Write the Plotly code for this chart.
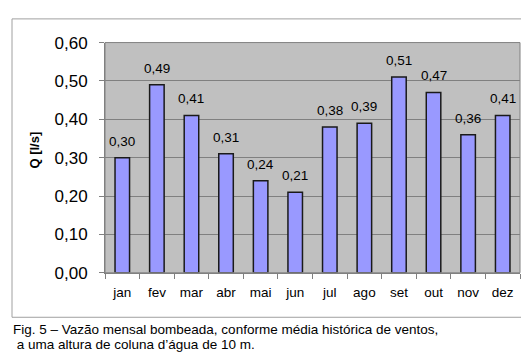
import plotly.graph_objects as go

months = ["jan", "fev", "mar", "abr", "mai", "jun", "jul", "ago", "set", "out", "nov", "dez"]
values = [0.30, 0.49, 0.41, 0.31, 0.24, 0.21, 0.38, 0.39, 0.51, 0.47, 0.36, 0.41]
y_ticks = [0.0, 0.1, 0.2, 0.3, 0.4, 0.5, 0.6]
y_tick_labels = ["0,00", "0,10", "0,20", "0,30", "0,40", "0,50", "0,60"]
labels = [f"{v:.2f}".replace(".", ",") for v in values]
caption = ["Fig. 5 – Vazão mensal bombeada, conforme média histórica de ventos,",
           " a uma altura de coluna d’água de 10 m."]

W, H = 529, 360
L, R, T, B = 97, 512, 27, 270

FONT = "Arial, Liberation Sans, sans-serif"

fig = go.Figure(go.Bar(
    x=months, y=values,
    marker=dict(color="#9999ff", line=dict(color="#1a1a1a", width=1.5)),
    width=0.42,
))

annotations = [
    dict(x=m, y=v, text=t, xref="x", yref="y", showarrow=False,
         yanchor="bottom", yshift=7, font=dict(size=13.5, color="black"))
    for m, v, t in zip(months, values, labels)
]
annotations += [
    dict(text="<b>Q [l/s]</b>", textangle=-90, x=27 / W, y=1 - 141 / H,
         xref="paper", yref="paper", showarrow=False, font=dict(size=13),
         xanchor="center", yanchor="middle"),
    dict(text=caption[0], x=3 / W, y=1 - 330 / H, xref="paper", yref="paper",
         showarrow=False, font=dict(size=13.5), xanchor="left", yanchor="middle"),
    dict(text=caption[1], x=3 / W, y=1 - 346 / H, xref="paper", yref="paper",
         showarrow=False, font=dict(size=13.5), xanchor="left", yanchor="middle"),
]

fig.update_layout(
    width=W, height=H,
    margin=dict(l=0, r=0, t=0, b=0),
    paper_bgcolor="white", plot_bgcolor="#c0c0c0",
    font=dict(family=FONT, color="black"),
    showlegend=False,
    xaxis=dict(
        domain=[L / W, R / W], tickson="boundaries", ticks="outside", ticklen=5,
        tickcolor="#808080", showline=True, linecolor="#808080", linewidth=1,
        tickfont=dict(size=13.5), showgrid=False, ticklabelstandoff=7,
    ),
    yaxis=dict(
        domain=[1 - B / H, 1 - T / H], range=[0, 0.6], tickvals=y_ticks,
        ticktext=y_tick_labels, ticks="outside", ticklen=5, tickcolor="#808080",
        showline=True, linecolor="#808080", linewidth=1,
        gridcolor="#808080", gridwidth=1, tickfont=dict(size=17),
        zeroline=False, ticklabelstandoff=8,
    ),
    shapes=[
        dict(type="rect", xref="paper", yref="paper",
             x0=4 / W, x1=521 / W, y0=1 - 317 / H, y1=1 - 2 / H,
             line=dict(color="#a0a0a0", width=1), fillcolor="rgba(0,0,0,0)", layer="below"),
        dict(type="rect", xref="paper", yref="paper",
             x0=L / W, x1=R / W, y0=1 - B / H, y1=1 - T / H,
             line=dict(color="#808080", width=1), fillcolor="rgba(0,0,0,0)"),
    ],
    annotations=annotations,
)

fig.write_html("out.html")
